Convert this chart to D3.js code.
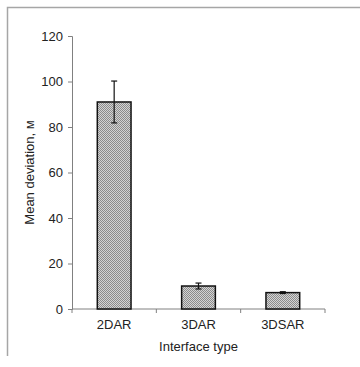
<!DOCTYPE html>
<html>
<head>
<meta charset="utf-8">
<script src="https://cdn.jsdelivr.net/npm/d3@7"></script>
<style>
  body { margin: 0; background: #fff; }
  text { font-family: "Liberation Sans", Arial, sans-serif; }
</style>
</head>
<body>
<script>
// chart values
const categories = ["2DAR", "3DAR", "3DSAR"];
const means = [91, 10.1, 7.2];
const errors = [9.2, 1.3, 0.4];
const yTicks = [0, 20, 40, 60, 80, 100, 120];

const w = 360, h = 367;
const padL = 72, padR = 325, padT = 36, padB = 309;

const svg = d3.select("body").append("svg")
    .attr("width", w)
    .attr("height", h);

// checker pattern for the bars
const defs = svg.append("defs");
const pat = defs.append("pattern")
    .attr("id", "checker")
    .attr("width", 2).attr("height", 2)
    .attr("patternUnits", "userSpaceOnUse");
pat.append("rect").attr("width", 2).attr("height", 2).attr("fill", "#d4d4d4");
pat.append("rect").attr("width", 1).attr("height", 1).attr("fill", "#8c8c8c");
pat.append("rect").attr("x", 1).attr("y", 1).attr("width", 1).attr("height", 1).attr("fill", "#8c8c8c");

// outer frame
svg.append("path")
    .attr("d", "M7.5,356 V7.5 H360")
    .attr("fill", "none")
    .attr("stroke", "#a6a6a6")
    .attr("stroke-width", 1.5);

const x = d3.scaleBand()
    .domain(categories)
    .range([padL, padR])
    .paddingInner(0.6)
    .paddingOuter(0.3);

const y = d3.scaleLinear()
    .domain([0, 120])
    .range([padB, padT]);

// y axis
const yAxis = d3.axisLeft(y).tickValues(yTicks).tickSize(4).tickPadding(5);
const gy = svg.append("g")
    .attr("transform", "translate(" + padL + ",0)")
    .call(yAxis);
gy.selectAll("path, line").attr("stroke", "#808080");
gy.selectAll("text").attr("font-size", 13).attr("fill", "#222");

// x axis: ticks at the category borders
const xb = d3.scaleLinear().domain([0, categories.length]).range([padL, padR]);
const gx = svg.append("g")
    .attr("transform", "translate(0," + padB + ")");
gx.append("line")
    .attr("x1", padL).attr("x2", padR)
    .attr("stroke", "#808080");
gx.selectAll(".tk")
    .data(d3.range(categories.length + 1))
    .enter().append("line")
    .attr("x1", (d) => xb(d)).attr("x2", (d) => xb(d))
    .attr("y1", 0).attr("y2", 4)
    .attr("stroke", "#808080");
gx.selectAll(".lbl")
    .data(categories)
    .enter().append("text")
    .attr("x", (d) => x(d) + x.bandwidth() / 2)
    .attr("y", 20)
    .attr("text-anchor", "middle")
    .attr("font-size", 13)
    .attr("fill", "#222")
    .text((d) => d);

// bars
svg.selectAll(".bar")
    .data(categories)
    .enter().append("rect")
    .attr("x", (d) => x(d))
    .attr("y", (d, i) => y(means[i]))
    .attr("width", x.bandwidth())
    .attr("height", (d, i) => y(0) - y(means[i]))
    .attr("fill", "url(#checker)")
    .attr("stroke", "#111")
    .attr("stroke-width", 1.5);

// error bars
const eb = svg.selectAll(".err")
    .data(categories)
    .enter().append("g")
    .attr("stroke", "#111")
    .attr("stroke-width", 1.2);
eb.append("line")
    .attr("x1", (d) => x(d) + x.bandwidth() / 2)
    .attr("x2", (d) => x(d) + x.bandwidth() / 2)
    .attr("y1", (d, i) => y(means[i] + errors[i]))
    .attr("y2", (d, i) => y(means[i] - errors[i]));
[1, -1].forEach(function(s) {
  eb.append("line")
    .attr("x1", (d) => x(d) + x.bandwidth() / 2 - 3)
    .attr("x2", (d) => x(d) + x.bandwidth() / 2 + 3)
    .attr("y1", (d, i) => y(means[i] + s * errors[i]))
    .attr("y2", (d, i) => y(means[i] + s * errors[i]));
});

// axis titles
svg.append("text")
    .attr("transform", "translate(34," + ((padT + padB) / 2) + ") rotate(-90)")
    .attr("text-anchor", "middle")
    .attr("font-size", 13)
    .attr("fill", "#222")
    .text("Mean deviation, м");

svg.append("text")
    .attr("x", (padL + padR) / 2)
    .attr("y", 351)
    .attr("text-anchor", "middle")
    .attr("font-size", 13)
    .attr("fill", "#222")
    .text("Interface type");
</script>
</body>
</html>
